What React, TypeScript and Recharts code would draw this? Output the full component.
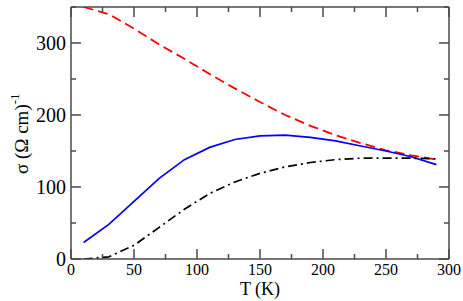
import React from 'react';
import { LineChart, Line, XAxis, YAxis } from 'recharts';

const temps = [10, 30, 50, 70, 90, 110, 130, 150, 170, 190, 210, 230, 250, 270, 290];
const redDashed = [350, 340, 320, 298, 278, 257, 237, 218, 200, 185, 172, 161, 151, 144, 138];
const blueSolid = [23, 48, 80, 112, 138, 155, 166, 171, 172, 169, 164, 157, 150, 142, 131];
const blackDashDot = [0, 3, 19, 44, 69, 91, 107, 119, 128, 134, 138, 140, 140, 140, 139];

const xTicks = [0, 25, 50, 75, 100, 125, 150, 175, 200, 225, 250, 275, 300];
const yTicks = [0, 50, 100, 150, 200, 250, 300, 350];

const data = temps.map((t, i) => ({
  t,
  red: redDashed[i],
  blue: blueSolid[i],
  black: blackDashDot[i],
}));

const FRAME = '#4a4a4a';
const FONT = "'Liberation Serif', serif";

const BottomTick = ({ x, y, payload }: any) => {
  const major = payload.value % 50 === 0;
  return (
    <g>
      <line x1={x} y1={y} x2={x} y2={y - (major ? 10 : 5)} stroke={FRAME} strokeWidth={1.5} />
      {major && (
        <text x={x} y={y + 16} textAnchor="middle" fontSize={16} style={{ fontFamily: FONT }} fill="#000">
          {payload.value}
        </text>
      )}
    </g>
  );
};

const TopTick = ({ x, y, payload }: any) => {
  const major = payload.value % 50 === 0;
  return <line x1={x} y1={y} x2={x} y2={y + (major ? 10 : 5)} stroke={FRAME} strokeWidth={1.5} />;
};

const LeftTick = ({ x, y, payload }: any) => {
  const major = payload.value % 100 === 0;
  return (
    <g>
      <line x1={x} y1={y} x2={x + (major ? 10 : 5)} y2={y} stroke={FRAME} strokeWidth={1.5} />
      {major && (
        <text x={x - 5} y={y + 7} textAnchor="end" fontSize={20} style={{ fontFamily: FONT }} fill="#000">
          {payload.value}
        </text>
      )}
    </g>
  );
};

const RightTick = ({ x, y, payload }: any) => {
  const major = payload.value % 100 === 0;
  return <line x1={x} y1={y} x2={x - (major ? 10 : 5)} y2={y} stroke={FRAME} strokeWidth={1.5} />;
};

const YLabel = () => (
  <text
    transform="translate(28,174) rotate(-90)"
    textAnchor="start"
    fontSize={19}
    style={{ fontFamily: FONT }}
    fill="#000"
  >
    σ (Ω cm)
    <tspan dy={-9} fontSize={13}>-1</tspan>
  </text>
);

const XLabel = () => (
  <text x={260} y={295} textAnchor="middle" fontSize={18} style={{ fontFamily: FONT }} fill="#000">
    T (K)
  </text>
);

export default function App() {
  return (
    <div
      style={{
        position: 'absolute',
        left: 0,
        top: 0,
        width: 463,
        height: 301,
        background: '#fff',
        fontFamily: FONT,
      }}
    >
      <LineChart
        width={463}
        height={301}
        data={data}
        margin={{ top: 6, right: 13, bottom: 41, left: 70 }}
      >
        <XAxis
          dataKey="t"
          type="number"
          domain={[0, 300]}
          ticks={xTicks}
          interval={0}
          height={1}
          tickSize={0}
          tickMargin={0}
          tick={<BottomTick />}
          axisLine={{ stroke: FRAME, strokeWidth: 1.5 }}
          allowDataOverflow
          label={<XLabel />}
        />
        <XAxis
          xAxisId="top"
          orientation="top"
          dataKey="t"
          type="number"
          domain={[0, 300]}
          ticks={xTicks}
          interval={0}
          height={1}
          tickSize={0}
          tickMargin={0}
          tick={<TopTick />}
          axisLine={{ stroke: FRAME, strokeWidth: 1.5 }}
          allowDataOverflow
        />
        <YAxis
          type="number"
          domain={[0, 350]}
          ticks={yTicks}
          interval={0}
          width={1}
          tickSize={0}
          tickMargin={0}
          tick={<LeftTick />}
          axisLine={{ stroke: FRAME, strokeWidth: 1.5 }}
          allowDataOverflow
          label={<YLabel />}
        />
        <YAxis
          yAxisId="right"
          orientation="right"
          type="number"
          domain={[0, 350]}
          ticks={yTicks}
          interval={0}
          width={1}
          tickSize={0}
          tickMargin={0}
          tick={<RightTick />}
          axisLine={{ stroke: FRAME, strokeWidth: 1.5 }}
          allowDataOverflow
        />
        <Line
          type="linear"
          dataKey="red"
          stroke="#ff0000"
          strokeWidth={1.8}
          strokeDasharray="10 5"
          dot={false}
          isAnimationActive={false}
        />
        <Line
          type="linear"
          dataKey="blue"
          stroke="#0000ff"
          strokeWidth={1.7}
          dot={false}
          isAnimationActive={false}
        />
        <Line
          type="linear"
          dataKey="black"
          stroke="#000000"
          strokeWidth={1.7}
          strokeDasharray="9 4 2 4"
          dot={false}
          isAnimationActive={false}
        />
      </LineChart>
    </div>
  );
}
